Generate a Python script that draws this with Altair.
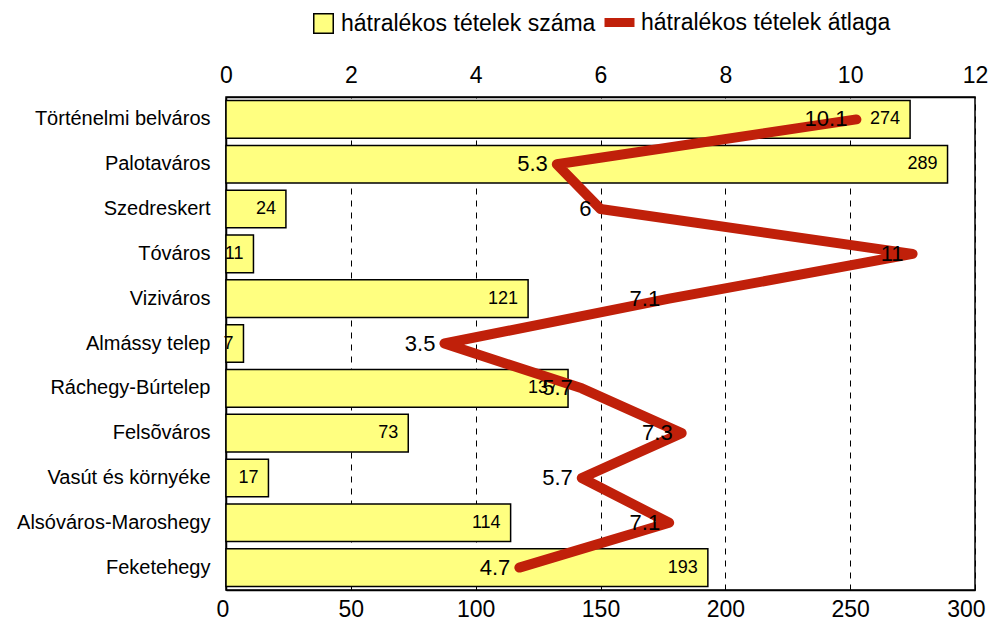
import altair as alt
import pandas as pd

categories = ["Történelmi belváros", "Palotaváros", "Szedreskert", "Tóváros", "Viziváros",
              "Almássy telep", "Ráchegy-Búrtelep", "Felsõváros", "Vasút és környéke",
              "Alsóváros-Maroshegy", "Feketehegy"]
counts = [274, 289, 24, 11, 121, 7, 137, 73, 17, 114, 193]
averages = [10.1, 5.3, 6, 11, 7.1, 3.5, 5.7, 7.3, 5.7, 7.1, 4.7]
count_series = "hátralékos tételek száma"
avg_series = "hátralékos tételek átlaga"

df = pd.DataFrame({
    "cat": categories,
    "count": counts,
    "avg": averages,
    "idx": list(range(len(categories))),
    "s1": count_series,
    "s2": avg_series,
})

FONT = "Liberation Sans"
YELLOW = "#FFFF80"
RED = "#C0200A"

y = alt.Y("cat:N", sort=categories, title=None,
          scale=alt.Scale(paddingInner=0.16, paddingOuter=0.08),
          axis=alt.Axis(labelFontSize=20, labelPadding=16, ticks=False, domainColor="black",
                        domainWidth=1.5, labelColor="black", labelLimit=400))

xb = alt.X("count:Q", title=None, scale=alt.Scale(domain=[0, 300], nice=False),
           axis=alt.Axis(values=[0, 50, 100, 150, 200, 250, 300], grid=True, gridDash=[6, 6],
                         gridColor="black", gridWidth=1, gridOpacity=1, labelFontSize=23,
                         labelColor="black", ticks=False, labelPadding=8, domainColor="black",
                         domainWidth=1.5, format="d", labelFlush=True, labelFlushOffset=10))

bars = alt.Chart(df).mark_bar(stroke="black", strokeWidth=1.5).encode(
    x=xb, y=y,
    fill=alt.Fill("s1:N", scale=alt.Scale(range=[YELLOW]),
                  legend=alt.Legend(title=None, orient="none", legendX=86, legendY=-85,
                                    symbolType="square", symbolSize=380, symbolStrokeColor="black",
                                    symbolStrokeWidth=1.5, labelFontSize=23, labelColor="black",
                                    padding=0, labelOffset=6, labelLimit=400)),
)
bar_text = alt.Chart(df).mark_text(align="right", baseline="middle", dx=-10, fontSize=18,
                                   color="black").encode(
    x=alt.X("count:Q", scale=alt.Scale(domain=[0, 300], nice=False)), y=y, text="count:Q")

xl = alt.X("avg:Q", title=None, scale=alt.Scale(domain=[0, 12], nice=False),
           axis=alt.Axis(orient="top", values=[0, 2, 4, 6, 8, 10, 12], grid=False, labelFontSize=23,
                         labelColor="black", ticks=False, labelPadding=10, domainColor="black",
                         domainWidth=1.5, format="d", labelFlush=False))

line = alt.Chart(df).mark_line(strokeWidth=10, strokeCap="round", strokeJoin="round").encode(
    x=xl, y=y, order=alt.Order("idx:Q"),
    stroke=alt.Stroke("s2:N", scale=alt.Scale(range=[RED]),
                      legend=alt.Legend(title=None, orient="none", legendX=374, legendY=-94,
                                        symbolType="stroke", symbolSize=900, symbolStrokeWidth=9,
                                        labelFontSize=23, labelColor="black", padding=0,
                                        labelOffset=2, labelLimit=400)),
)
line_text = alt.Chart(df).mark_text(align="right", baseline="middle", dx=-9, fontSize=22,
                                    color="black").encode(
    x=alt.X("avg:Q", scale=alt.Scale(domain=[0, 12], nice=False)), y=y, text="avg:Q")

chart = alt.layer(
    alt.layer(bars, bar_text),
    alt.layer(line, line_text),
).resolve_scale(x="independent", fill="independent", stroke="independent").properties(
    width=749, height=493,
    autosize=alt.AutoSizeParams(type="none"),
    padding={"left": 218, "top": 89, "right": 14, "bottom": 32},
).configure(font=FONT).configure_view(stroke="black", strokeWidth=1.5)

chart.save("out.html", embed_options={"renderer": "svg", "actions": False})
